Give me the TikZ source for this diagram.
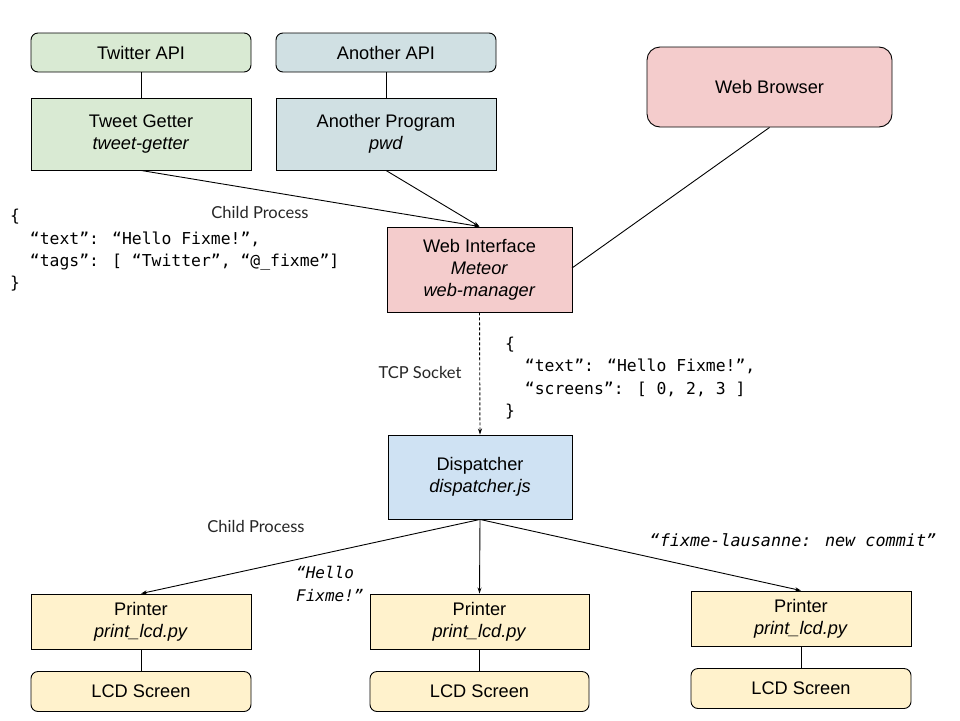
\documentclass[tikz,border=0pt]{standalone}
\usepackage{fontspec}
\setmainfont{Liberation Sans}
\newfontfamily\mono{DejaVu Sans Mono}
\newfontfamily\hand{Lato}
\usetikzlibrary{arrows.meta}
\definecolor{cgreen}{HTML}{D9EAD3}
\definecolor{cgrey}{HTML}{D0E0E3}
\definecolor{cpink}{HTML}{F4CCCC}
\definecolor{cblue}{HTML}{CFE2F3}
\definecolor{cyellow}{HTML}{FFF2CC}
\begin{document}
\begin{tikzpicture}[x=1pt,y=-1pt,
  box/.style={draw=black, line width=0.9pt, align=center, inner sep=0pt,
    font=\fontsize{18.2}{22}\selectfont},
  rbox/.style={box, rounded corners=7pt},
  link/.style={line width=0.9pt},
  arr/.style={line width=0.9pt, -{Stealth[length=6pt,width=4pt]}},
  handlbl/.style={font=\hand\fontsize{16.5}{18}\selectfont, text=black!85, inner sep=0pt},
  code/.style={font=\mono\fontsize{16.4}{22.3}\selectfont, align=left, inner sep=0pt, anchor=west},
  itcode/.style={font=\mono\itshape\fontsize{16}{23}\selectfont, align=left, inner sep=0pt}]
\useasboundingbox (0,0) rectangle (960,720);

% top row
\node[rbox, fill=cgreen, minimum width=220pt, minimum height=39pt] (twapi) at (141,52.5) {Twitter API};
\node[rbox, fill=cgrey, minimum width=220pt, minimum height=39pt] (anapi) at (386,52.5) {Another API};
\node[box, fill=cgreen, minimum width=220pt, minimum height=72pt] (tget) at (141,134) {Tweet Getter\\\textit{tweet-getter}};
\node[box, fill=cgrey, minimum width=220pt, minimum height=72pt] (aprog) at (386,134) {Another Program\\\textit{pwd}};
\node[box, rounded corners=13pt, fill=cpink, minimum width=245pt, minimum height=80pt] (browser) at (769.5,87) {Web Browser};

% web interface and dispatcher
\node[box, fill=cpink, minimum width=185pt, minimum height=85pt] (webint) at (479.5,269.5) {Web Interface\\\textit{Meteor}\\\textit{web-manager}};
\node[box, fill=cblue, minimum width=184pt, minimum height=84pt] (disp) at (480,477) {Dispatcher\\\textit{dispatcher.js}};

% printers
\node[box, fill=cyellow, minimum width=220pt, minimum height=55pt] (pr1) at (141,621.5) {Printer\\\textit{print\_lcd.py}};
\node[box, fill=cyellow, minimum width=219pt, minimum height=55pt] (pr2) at (479.5,621.5) {Printer\\\textit{print\_lcd.py}};
\node[box, fill=cyellow, minimum width=220pt, minimum height=55pt] (pr3) at (801,618.5) {Printer\\\textit{print\_lcd.py}};
\node[rbox, fill=cyellow, minimum width=220pt, minimum height=40pt] (lcd1) at (141,691.5) {LCD Screen};
\node[rbox, fill=cyellow, minimum width=219pt, minimum height=40pt] (lcd2) at (479.5,691.5) {LCD Screen};
\node[rbox, fill=cyellow, minimum width=220pt, minimum height=40pt] (lcd3) at (801,688.5) {LCD Screen};

% connectors
\draw[link] (twapi) -- (tget);
\draw[link] (anapi) -- (aprog);
\draw[arr] (tget.south) -- (webint.north);
\draw[arr] (aprog.south) -- (webint.north);
\coordinate (wbin) at (572,268);
\draw[link] (browser.south) -- (wbin);
\draw[arr, dashed, dash pattern=on 3pt off 2pt] (webint.south) -- (disp.north);
\draw[arr] (disp.south) -- (pr1.north);
\draw[arr] (disp.south) -- (pr2.north);
\draw[arr] (disp.south) -- (pr3.north);
\draw[link] (pr1) -- (lcd1);
\draw[link] (pr2) -- (lcd2);
\draw[link] (pr3) -- (lcd3);

% labels
\node[handlbl] (cp1) at (260,212) {Child Process};
\node[handlbl] (cp2) at (256,526) {Child Process};
\node[handlbl] (tcp) at (420,372) {TCP Socket};

\node[code] (json1) at (10,250.5) {\{\\\phantom{xx}“text”: “Hello Fixme!”,\\\phantom{xx}“tags”: [ “Twitter”, “@\_fixme”]\\\}};
\node[code] (json2) at (505,378) {\{\\\phantom{xx}“text”: “Hello Fixme!”,\\\phantom{xx}“screens”: [ 0, 2, 3 ]\\\}};

\node[itcode, anchor=west] (hello) at (296,583.5) {“Hello\\Fixme!”};
\node[itcode, font=\mono\itshape\fontsize{16.8}{20}\selectfont] (commit) at (793,540) {“fixme-lausanne: new commit”};
\end{tikzpicture}
\end{document}
